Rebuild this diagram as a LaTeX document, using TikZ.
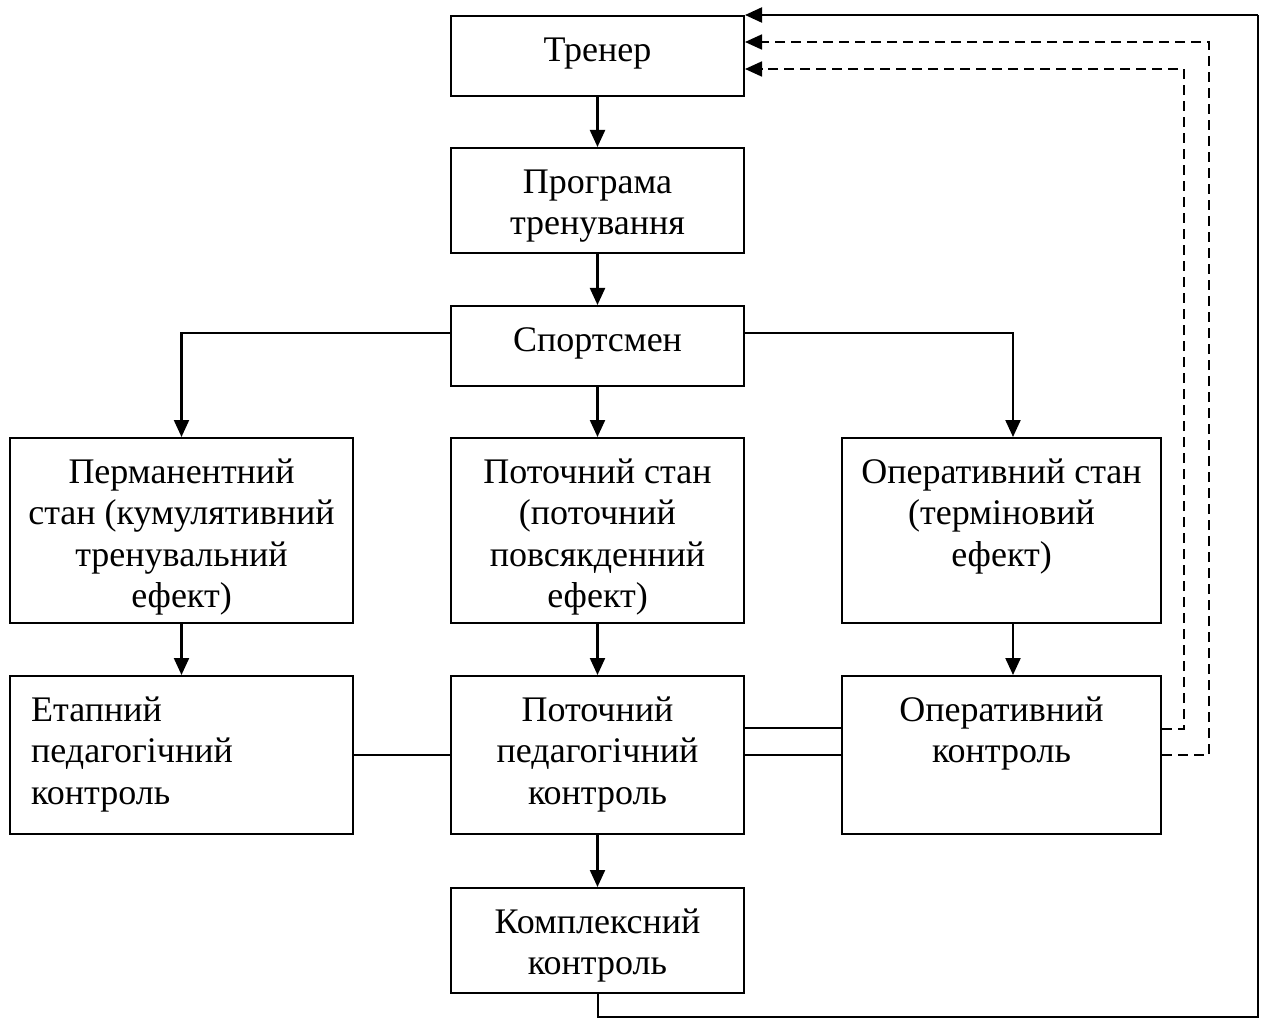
\documentclass[tikz,border=0pt]{standalone}
\usepackage{fontspec}
\setmainfont{Liberation Serif}
\usetikzlibrary{arrows.meta,calc}
\begin{document}
\begin{tikzpicture}[x=1pt,y=-1pt,
  box/.style={draw,line width=2pt,inner sep=0pt,rectangle},
  txt/.style={anchor=north,align=center,inner sep=0pt,font=\fontsize{36}{41.5}\selectfont},
  txtl/.style={anchor=north west,align=left,inner sep=0pt,font=\fontsize{36}{41.5}\selectfont},
  ln/.style={line width=2pt},
  arr/.style={line width=2.2pt,-{Triangle[length=17pt,width=15pt]}},
  dsh/.style={line width=1.8pt,dash pattern=on 10pt off 6pt,-{Triangle[length=17pt,width=15pt]}}
]
\useasboundingbox (0,0) rectangle (1262,1019);

% boxes
\node[box,minimum width=293pt,minimum height=80pt] (trener) at (597.5,56) {};
\node[box,minimum width=293pt,minimum height=105pt] (prog) at (597.5,200.5) {};
\node[box,minimum width=293pt,minimum height=80pt] (sport) at (597.5,346) {};
\node[box,minimum width=343pt,minimum height=185pt] (perm) at (181.5,530.5) {};
\node[box,minimum width=293pt,minimum height=185pt] (potstan) at (597.5,530.5) {};
\node[box,minimum width=319pt,minimum height=185pt] (operstan) at (1001.5,530.5) {};
\node[box,minimum width=343pt,minimum height=158pt] (etap) at (181.5,755) {};
\node[box,minimum width=293pt,minimum height=158pt] (potkontr) at (597.5,755) {};
\node[box,minimum width=319pt,minimum height=158pt] (operkontr) at (1001.5,755) {};
\node[box,minimum width=293pt,minimum height=105pt] (kompl) at (597.5,940.5) {};

% texts
\node[txt] (t1) at ([yshift=-17pt]trener.north) {\strut Тренер};
\node[txt] (t2) at ([yshift=-17pt]prog.north) {\strut Програма\\тренування};
\node[txt] (t3) at ([yshift=-17pt]sport.north) {\strut Спортсмен};
\node[txt] (t4) at ([yshift=-17pt]perm.north) {\strut Перманентний\\стан (кумулятивний\\тренувальний\\ефект)};
\node[txt] (t5) at ([yshift=-17pt]potstan.north) {\strut Поточний стан\\(поточний\\повсякденний\\ефект)};
\node[txt] (t6) at ([yshift=-17pt]operstan.north) {\strut Оперативний стан\\(терміновий\\ефект)};
\node[txtl] (t7) at ([xshift=22pt,yshift=-17pt]etap.north west) {\strut Етапний\\педагогічний\\контроль};
\node[txt] (t8) at ([yshift=-17pt]potkontr.north) {\strut Поточний\\педагогічний\\контроль};
\node[txt] (t9) at ([yshift=-17pt]operkontr.north) {\strut Оперативний\\контроль};
\node[txt] (t10) at ([yshift=-17pt]kompl.north) {\strut Комплексний\\контроль};

% connectors
\draw[arr] (trener) -- (prog);
\draw[arr] (prog) -- (sport);
\draw[arr] (sport) -- (potstan);
\draw[arr] (potstan) -- (potkontr);
\draw[arr] (potkontr) -- (kompl);
\draw[arr] ([yshift=13pt]sport.west) -| (perm.north);
\draw[arr] ([yshift=13pt]sport.east) -| ([xshift=11.5pt]operstan.north);
\draw[arr] (perm) -- (etap);
\draw[arr] ([xshift=11.5pt]operstan.south) -- ([xshift=11.5pt]operkontr.north);
\draw[ln] (etap.east) -- (potkontr.west);
\draw[ln] (potkontr.east) -- (operkontr.west);
\draw[ln] ([yshift=27pt]potkontr.east) -- ([yshift=27pt]operkontr.west);
\draw[dsh] ([yshift=26pt]operkontr.east) -- ++(22,0) |- ([yshift=-13pt]trener.east);
\draw[dsh] (operkontr.east) -- ++(47,0) |- ([yshift=14pt]trener.east);
\coordinate (br) at (1258,1017);
\draw[ln] (kompl.south) |- (br) -- (br |- trener.north east);
\draw[arr] (br |- trener.north east) -- (trener.north east);
\end{tikzpicture}
\end{document}
